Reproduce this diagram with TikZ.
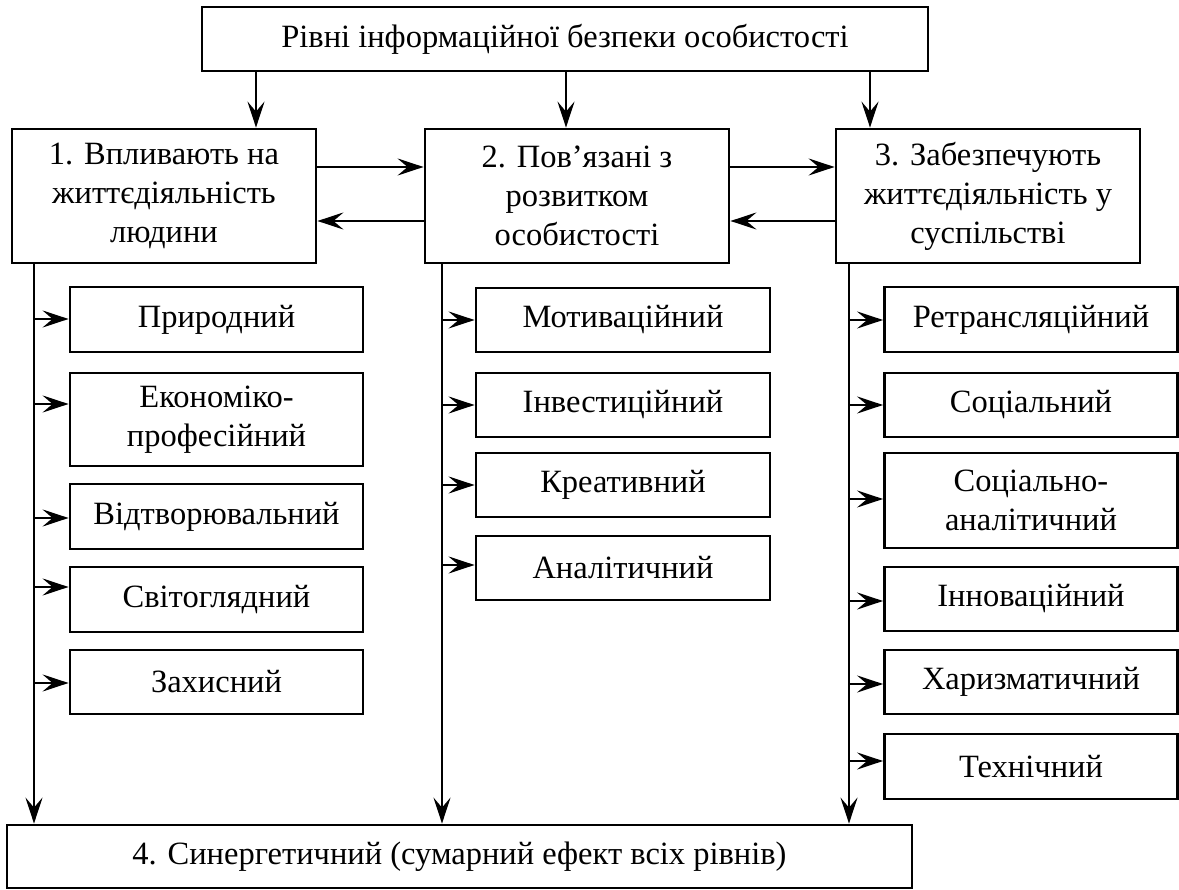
\documentclass[tikz,border=0pt]{standalone}
\usepackage{fontspec}
\setmainfont{Liberation Serif}
\usetikzlibrary{arrows.meta}
\begin{document}
\begin{tikzpicture}[x=1pt,y=-1pt,
  box/.style={draw, line width=2.8pt, align=center, inner sep=0pt,
    font=\fontsize{32.5}{39}\selectfont},
  link/.style={line width=2.8pt,
    -{Stealth[length=26pt,width=17pt,inset=10pt]}},
  lcol/.style={box, minimum width=293pt},
  mcol/.style={box, minimum width=294pt},
  rcol/.style={box, minimum width=293pt},
  lvl/.style={box, minimum width=304pt, minimum height=134pt}]
\useasboundingbox (0,0) rectangle (1179,890);

% top and level boxes
\node[box, minimum width=726pt, minimum height=64pt] (top) at (565,39)
  {Рівні інформаційної безпеки особистості};
\node[lvl] (b1) at (164,196) {1. Впливають на\\життєдіяльність\\людини};
\node[lvl] (b2) at (577,196) {2. Пов’язані з\\розвитком\\особистості};
\node[lvl] (b3) at (988,196) {3. Забезпечують\\життєдіяльність у\\суспільстві};
\node[box, minimum width=905pt, minimum height=63pt] (syn) at (459.5,856.5)
  {4. Синергетичний (сумарний ефект всіх рівнів)};

% first column
\node[lcol, minimum height=65pt] (l1) at (216.5,319.5) {Природний};
\node[lcol, minimum height=93pt] (l2) at (216.5,419.5) {Економіко-\\професійний};
\node[lcol, minimum height=65pt] (l3) at (216.5,516.5) {Відтворювальний};
\node[lcol, minimum height=65pt] (l4) at (216.5,599.5) {Світоглядний};
\node[lcol, minimum height=64pt] (l5) at (216.5,682) {Захисний};

% second column
\node[mcol, minimum height=64pt] (m1) at (623,320) {Мотиваційний};
\node[mcol, minimum height=64pt] (m2) at (623,405) {Інвестиційний};
\node[mcol, minimum height=64pt] (m3) at (623,485) {Креативний};
\node[mcol, minimum height=64pt] (m4) at (623,568) {Аналітичний};

% third column
\node[rcol, minimum height=65pt] (r1) at (1031,319.5) {Ретрансляційний};
\node[rcol, minimum height=64pt] (r2) at (1031,405) {Соціальний};
\node[rcol, minimum height=95pt] (r3) at (1031,500.5) {Соціально-\\аналітичний};
\node[rcol, minimum height=64pt] (r4) at (1031,599) {Інноваційний};
\node[rcol, minimum height=64pt] (r5) at (1031,682) {Харизматичний};
\node[rcol, minimum height=65pt] (r6) at (1031,766.5) {Технічний};

% top box to the three levels
\draw[link] (top.south -| 256,0) -- (b1.north -| 256,0);
\draw[link] (top.south -| 566,0) -- (b2.north -| 566,0);
\draw[link] (top.south -| 870,0) -- (b3.north -| 870,0);

% links between the levels
\draw[link] (b1.east |- 0,167) -- (b2.west |- 0,167);
\draw[link] (b2.west |- 0,221) -- (b1.east |- 0,221);
\draw[link] (b2.east |- 0,167) -- (b3.west |- 0,167);
\draw[link] (b3.west |- 0,221) -- (b2.east |- 0,221);

% trunks down to the synergetic level
\coordinate (tl) at (34,0);
\coordinate (tm) at (442,0);
\coordinate (tr) at (849,0);
\draw[link] (b1.south -| tl) -- (syn.north -| tl);
\draw[link] (b2.south -| tm) -- (syn.north -| tm);
\draw[link] (b3.south -| tr) -- (syn.north -| tr);

% branches to the items
\foreach \n/\y in {l1/319, l2/404, l3/518, l4/587, l5/683}
  \draw[link] (tl |- 0,\y) -- (\n.west |- 0,\y);
\foreach \n/\y in {m1/320, m2/405, m3/485, m4/565}
  \draw[link] (tm |- 0,\y) -- (\n.west |- 0,\y);
\foreach \n/\y in {r1/320, r2/405, r3/499, r4/601, r5/684, r6/761}
  \draw[link] (tr |- 0,\y) -- (\n.west |- 0,\y);
\end{tikzpicture}
\end{document}
